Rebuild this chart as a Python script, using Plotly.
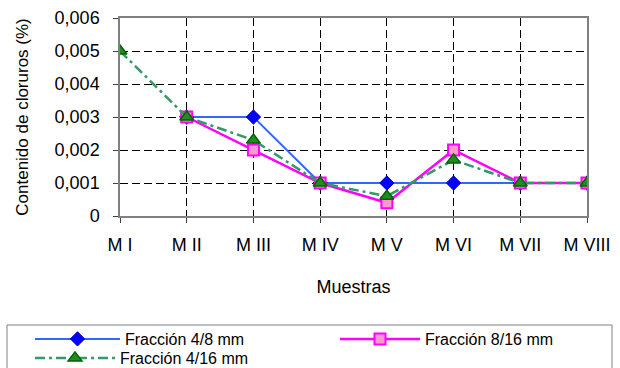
import plotly.graph_objects as go

muestras = ["M I", "M II", "M III", "M IV", "M V", "M VI", "M VII", "M VIII"]
fraccion_4_8 = [None, 0.003, 0.003, 0.001, 0.001, 0.001, 0.001, 0.001]
fraccion_8_16 = [None, 0.003, 0.002, 0.001, 0.0004, 0.002, 0.001, 0.001]
fraccion_4_16 = [0.005, 0.003, 0.0023, 0.001, 0.0006, 0.0017, 0.001, 0.001]
y_ticks = [0, 0.001, 0.002, 0.003, 0.004, 0.005, 0.006]
y_labels = ["0", "0,001", "0,002", "0,003", "0,004", "0,005", "0,006"]

idx = list(range(len(muestras)))
font = "Liberation Sans, Arial, sans-serif"

# plot area in pixels
L, R, T, B = 120, 587, 18, 216
W, H = R - L, B - T


def px_x(x):
    return (x - L) / W


def px_y(y):
    return (B - y) / H


fig = go.Figure()
fig.add_trace(go.Scatter(
    x=idx, y=fraccion_4_8, mode="lines+markers", name="Fracción 4/8 mm",
    line=dict(color="#3366FF", width=2), legend="legend",
    marker=dict(symbol="diamond", size=11, color="#0000FF", line=dict(color="#0000CC", width=1)),
))
fig.add_trace(go.Scatter(
    x=idx, y=fraccion_8_16, mode="lines+markers", name="Fracción 8/16 mm",
    line=dict(color="#FF00FF", width=2.5), legend="legend2",
    marker=dict(symbol="square", size=11, color="#FF99CC", line=dict(color="#FF00FF", width=2)),
))
fig.add_trace(go.Scatter(
    x=idx, y=fraccion_4_16, mode="lines+markers", name="Fracción 4/16 mm",
    line=dict(color="#339966", width=2.5, dash="10px,4px,3px,4px"), legend="legend3",
    marker=dict(symbol="triangle-up", size=12, color="#228B22", line=dict(color="#006400", width=1.5)),
))

leg_common = dict(
    xanchor="left", yanchor="middle",
    font=dict(size=16, family=font), bgcolor="rgba(0,0,0,0)", borderwidth=0,
)

fig.update_layout(
    width=620, height=368,
    margin=dict(l=L, r=620 - R, t=T, b=368 - B, autoexpand=False),
    paper_bgcolor="white", plot_bgcolor="white",
    font=dict(family=font, size=18, color="black"),
    showlegend=True,
    legend=dict(x=px_x(30), y=px_y(339), itemwidth=85, **leg_common),
    legend2=dict(x=px_x(335), y=px_y(339), itemwidth=80, **leg_common),
    legend3=dict(x=px_x(30), y=px_y(358), itemwidth=80, **leg_common),
    xaxis=dict(
        range=[0, 7], tickmode="array", tickvals=idx, ticktext=muestras,
        showgrid=True, gridcolor="black", griddash="8px,4px", gridwidth=1,
        showline=True, linecolor="#808080", linewidth=1.5, mirror=True,
        ticks="outside", ticklen=5, tickcolor="#404040", ticklabelstandoff=7,
        title=dict(text="Muestras", font=dict(size=18), standoff=26),
        zeroline=False,
    ),
    yaxis=dict(
        range=[0, 0.006], tickmode="array", tickvals=y_ticks, ticktext=y_labels,
        showgrid=True, gridcolor="black", griddash="8px,4px", gridwidth=1,
        showline=True, linecolor="#808080", linewidth=1.5, mirror=True,
        ticks="outside", ticklen=5, tickcolor="#404040", ticklabelstandoff=10,
        title=dict(text="Contenido de cloruros (%)", font=dict(size=17), standoff=22),
        zeroline=False,
    ),
    shapes=[dict(
        type="rect", xref="paper", yref="paper",
        x0=px_x(7), x1=px_x(612), y0=px_y(385), y1=px_y(325),
        line=dict(color="#808080", width=1), fillcolor="rgba(0,0,0,0)",
    )],
)

fig.write_html("out.html")
